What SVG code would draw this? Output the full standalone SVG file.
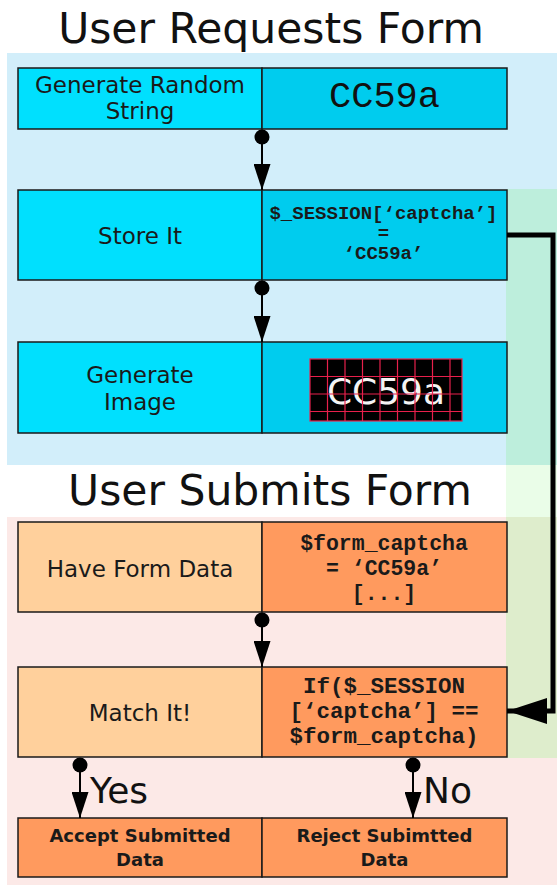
<svg xmlns="http://www.w3.org/2000/svg" width="557" height="888" viewBox="0 0 557 888">
  <defs>
    <style>
      .title { font-family: "DejaVu Sans", "Liberation Sans", sans-serif; font-size: 42.5px; fill: #111; text-anchor: middle; }
      .label { font-family: "DejaVu Sans", "Liberation Sans", sans-serif; font-size: 23px; fill: #1a1a1a; text-anchor: middle; }
      .code { font-family: "Liberation Mono", "Courier New", monospace; font-weight: bold; fill: #1a1a1a; text-anchor: middle; }
      .result { font-family: "DejaVu Sans", "Liberation Sans", sans-serif; font-weight: bold; font-size: 18px; fill: #1a1a1a; text-anchor: middle; }
      .branch { font-family: "DejaVu Sans", "Liberation Sans", sans-serif; font-size: 36px; fill: #111; }
      .cell { stroke: #1a1a1a; stroke-width: 1.5; }
      .blueL { fill: #00e0fe; }
      .blueR { fill: #00ccee; }
      .peach { fill: #ffd09c; }
      .orange { fill: #ff9a5e; }
      .flow { fill: none; stroke: #000; stroke-width: 2; marker-start: url(#dot); marker-end: url(#arrow); }
      .grid { stroke: #e8204c; stroke-width: 1.2; }
    </style>
    <marker id="dot" viewBox="0 0 16 16" refX="8" refY="8" markerWidth="16" markerHeight="16" markerUnits="userSpaceOnUse">
      <circle cx="8" cy="8" r="7.5" fill="#000"/>
    </marker>
    <marker id="arrow" viewBox="0 0 26 17" refX="26" refY="8.5" markerWidth="26" markerHeight="17" orient="auto" markerUnits="userSpaceOnUse">
      <path d="M0,0 L26,8.5 L0,17 Z" fill="#000"/>
    </marker>
    <marker id="bigArrow" viewBox="0 0 40 26" refX="40" refY="13" markerWidth="40" markerHeight="26" orient="auto" markerUnits="userSpaceOnUse">
      <path d="M0,0 L40,13 L0,26 Z" fill="#000"/>
    </marker>
  </defs>

  <!-- swimlane backgrounds -->
  <g id="lanes">
    <rect x="0" y="0" width="557" height="888" fill="#ffffff"/>
    <rect x="7" y="53" width="550" height="412" fill="#d2eefa"/>
    <rect x="7" y="517" width="550" height="368" fill="#fce9e7"/>
    <!-- session lane on the right -->
    <rect x="506" y="189" width="51" height="276" fill="#bdeedc"/>
    <rect x="506" y="465" width="51" height="52" fill="#eafde8"/>
    <rect x="506" y="517" width="51" height="241" fill="#deedcc"/>
  </g>

  <g id="title-request">
    <text class="title" x="271" y="43">User Requests Form</text>
  </g>
  <g id="title-submit">
    <text class="title" x="270" y="505">User Submits Form</text>
  </g>

  <g id="generate-string">
    <rect class="cell blueL" x="18" y="68" width="244" height="61"/>
    <rect class="cell blueR" x="262" y="68" width="245" height="61"/>
    <text class="label" x="140" y="92.5">Generate Random</text>
    <text class="label" x="140" y="119">String</text>
    <text x="384.5" y="107" font-family="Liberation Mono, Courier New, monospace" font-size="37" fill="#111" text-anchor="middle">CC59a</text>
  </g>

  <g id="store-it">
    <rect class="cell blueL" x="18" y="190" width="244" height="90"/>
    <rect class="cell blueR" x="262" y="190" width="245" height="90"/>
    <text class="label" x="140" y="244">Store It</text>
    <text class="code" font-size="19" x="383.5" y="219">$_SESSION[‘captcha’]</text>
    <text class="code" font-size="19" x="383.5" y="239">=</text>
    <text class="code" font-size="19" x="383.5" y="259">‘CC59a’</text>
  </g>

  <g id="generate-image">
    <rect class="cell blueL" x="18" y="342" width="244" height="91"/>
    <rect class="cell blueR" x="262" y="342" width="245" height="91"/>
    <text class="label" x="140" y="383">Generate</text>
    <text class="label" x="140" y="410">Image</text>
    <rect x="310" y="359" width="152" height="62" fill="#000"/>
    <text x="386" y="404" font-family="DejaVu Sans, Liberation Sans, sans-serif" font-size="36" fill="#f4f4f4" text-anchor="middle">CC59a</text>
    <g class="grid">
      <line x1="327.5" y1="359" x2="327.5" y2="421"/>
      <line x1="345" y1="359" x2="345" y2="421"/>
      <line x1="362.5" y1="359" x2="362.5" y2="421"/>
      <line x1="380" y1="359" x2="380" y2="421"/>
      <line x1="397.5" y1="359" x2="397.5" y2="421"/>
      <line x1="415" y1="359" x2="415" y2="421"/>
      <line x1="432.5" y1="359" x2="432.5" y2="421"/>
      <line x1="450" y1="359" x2="450" y2="421"/>
      <line x1="310" y1="376.5" x2="462" y2="376.5"/>
      <line x1="310" y1="394" x2="462" y2="394"/>
      <line x1="310" y1="411.5" x2="462" y2="411.5"/>
      <rect x="310" y="359" width="152" height="62" fill="none"/>
    </g>
  </g>

  <g id="have-form-data">
    <rect class="cell peach" x="18" y="522" width="244" height="90"/>
    <rect class="cell orange" x="262" y="522" width="245" height="90"/>
    <text class="label" x="140" y="577">Have Form Data</text>
    <text class="code" font-size="21.5" x="384" y="550">$form_captcha</text>
    <text class="code" font-size="21.5" x="384" y="575">= ‘CC59a’</text>
    <text class="code" font-size="21.5" x="384" y="600">[...]</text>
  </g>

  <g id="match-it">
    <rect class="cell peach" x="18" y="667" width="244" height="90"/>
    <rect class="cell orange" x="262" y="667" width="245" height="90"/>
    <text class="label" x="140" y="721">Match It!</text>
    <text class="code" font-size="22.5" x="384" y="693">If($_SESSION</text>
    <text class="code" font-size="22.5" x="384" y="718">[‘captcha’] ==</text>
    <text class="code" font-size="22.5" x="384" y="743">$form_captcha)</text>
  </g>

  <g id="accept">
    <rect class="cell orange" x="18" y="818" width="244" height="59"/>
    <text class="result" x="140" y="842">Accept Submitted</text>
    <text class="result" x="140" y="866">Data</text>
  </g>

  <g id="reject">
    <rect class="cell orange" x="262" y="818" width="245" height="59"/>
    <text class="result" x="384.5" y="842">Reject Subimtted</text>
    <text class="result" x="384.5" y="866">Data</text>
  </g>

  <g id="connectors">
    <path class="flow" d="M262,137 V190"/>
    <path class="flow" d="M262,288 V342"/>
    <path class="flow" d="M262,620 V667"/>
    <path class="flow" d="M80,765 V818"/>
    <path class="flow" d="M413,765 V818"/>
    <path d="M507,235 H553 V711 H507" fill="none" stroke="#000" stroke-width="5" stroke-linejoin="miter" marker-end="url(#bigArrow)"/>
    <text class="branch" x="90" y="803">Yes</text>
    <text class="branch" x="423" y="803">No</text>
  </g>
</svg>
